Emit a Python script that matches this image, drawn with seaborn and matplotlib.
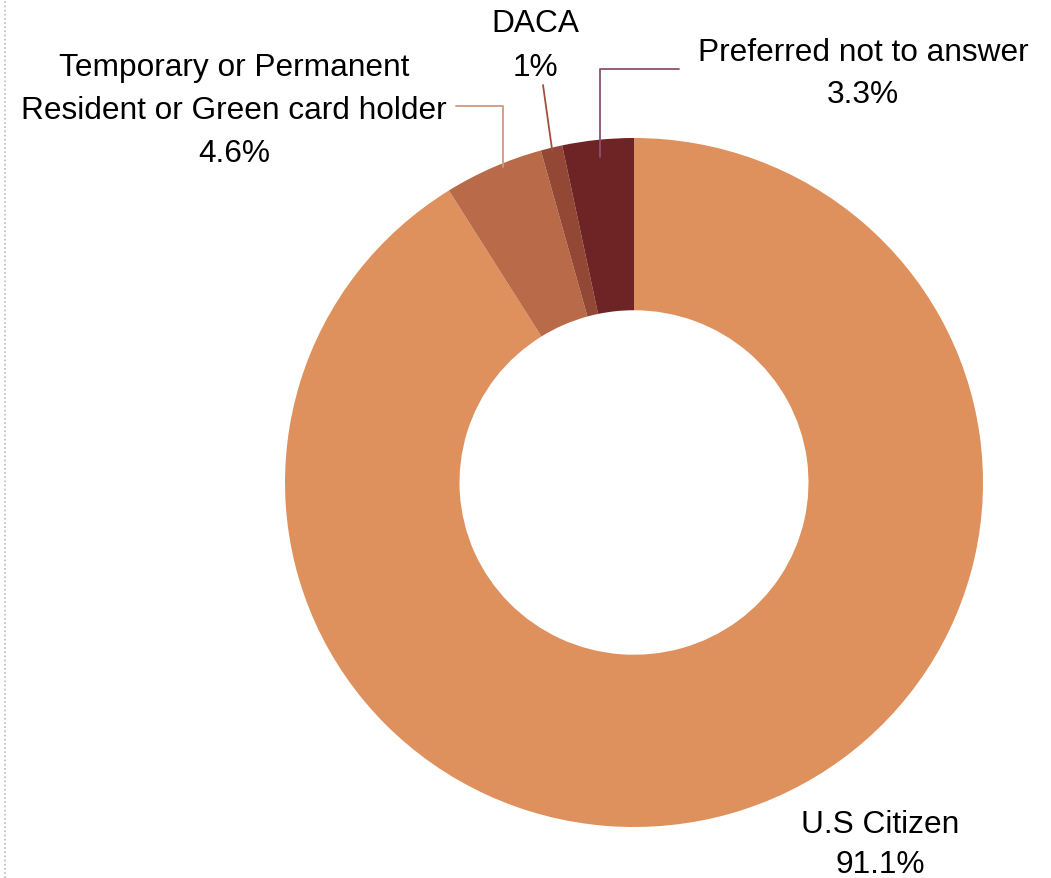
import matplotlib
matplotlib.use('Agg')

import numpy as np
import matplotlib.pyplot as plt
import seaborn as sns
from matplotlib.lines import Line2D

# data, clockwise from 12 o'clock
categories = ["U.S Citizen", "Temporary or Permanent\nResident or Green card holder", "DACA", "Preferred not to answer"]
shares = [91.1, 4.6, 1.0, 3.3]
pct_labels = ["91.1%", "4.6%", "1%", "3.3%"]
colors = ["#DE915D", "#B96A48", "#934735", "#6E2425"]
line_colors = ["#DE915D", "#D29A7C", "#A0503F", "#8E5070"]

sns.set_theme(style="white")
plt.rcParams['font.family'] = ['Liberation Sans', 'DejaVu Sans']

W, H = 1051, 879
fig = plt.figure(figsize=(W / 100, H / 100), dpi=100)

# donut axes placed in pixel terms
ax = fig.add_axes([285 / W, (H - 828) / H, 698 / W, 689 / H])
wedges, _ = ax.pie(shares, colors=colors, startangle=90, counterclock=False,
                   radius=1.0, wedgeprops=dict(width=0.5, edgecolor='none'))
ax.set_aspect('auto')
ax.set_xlim(-1, 1)
ax.set_ylim(-1, 1)
ax.set_axis_off()

# mid angle of each wedge
mid = [np.deg2rad((w.theta1 + w.theta2) / 2) for w in wedges]

def wedge_point(i, r, shift=0.0):
    a = mid[i] + np.deg2rad(shift)
    return (r * np.cos(a), r * np.sin(a))

fs = 22.8

# labels
fig.text(234 / W, 1 - 111 / H, categories[1] + "\n" + pct_labels[1], ha='center', va='center',
         fontsize=fs, linespacing=1.58, color='black')
fig.text(535 / W, 1 - 46 / H, categories[2] + "\n" + pct_labels[2], ha='center', va='center',
         fontsize=fs, linespacing=1.65, color='black')
fig.text(863 / W, 1 - 74 / H, categories[3] + "\n" + pct_labels[3], ha='center', va='center',
         fontsize=fs, linespacing=1.52, color='black')
fig.text(880 / W, 1 - 845 / H, categories[0] + "\n" + pct_labels[0], ha='center', va='center',
         fontsize=fs, linespacing=1.42, color='black')

# leader lines
ax.annotate('', xy=wedge_point(1, 0.99, -1.5), xycoords='data',
            xytext=(456, H - 107), textcoords='figure pixels',
            arrowprops=dict(arrowstyle='-', color=line_colors[1], lw=1.3,
                            shrinkA=0, shrinkB=0,
                            connectionstyle='angle,angleA=0,angleB=90,rad=0'))
ax.annotate('', xy=wedge_point(2, 0.99), xycoords='data',
            xytext=(543, H - 86), textcoords='figure pixels',
            arrowprops=dict(arrowstyle='-', color=line_colors[2], lw=1.3,
                            shrinkA=0, shrinkB=0))
ax.annotate('', xy=wedge_point(3, 0.95), xycoords='data',
            xytext=(679, H - 70), textcoords='figure pixels',
            arrowprops=dict(arrowstyle='-', color=line_colors[3], lw=1.3,
                            shrinkA=0, shrinkB=0,
                            connectionstyle='angle,angleA=0,angleB=90,rad=0'))

# dotted edge on the left
fig.add_artist(Line2D([5 / W, 5 / W], [0, 1], transform=fig.transFigure,
                      color='#BBBBBB', lw=1.2, linestyle=(0, (1, 1.5))))

fig.savefig("out.png", dpi=100)
